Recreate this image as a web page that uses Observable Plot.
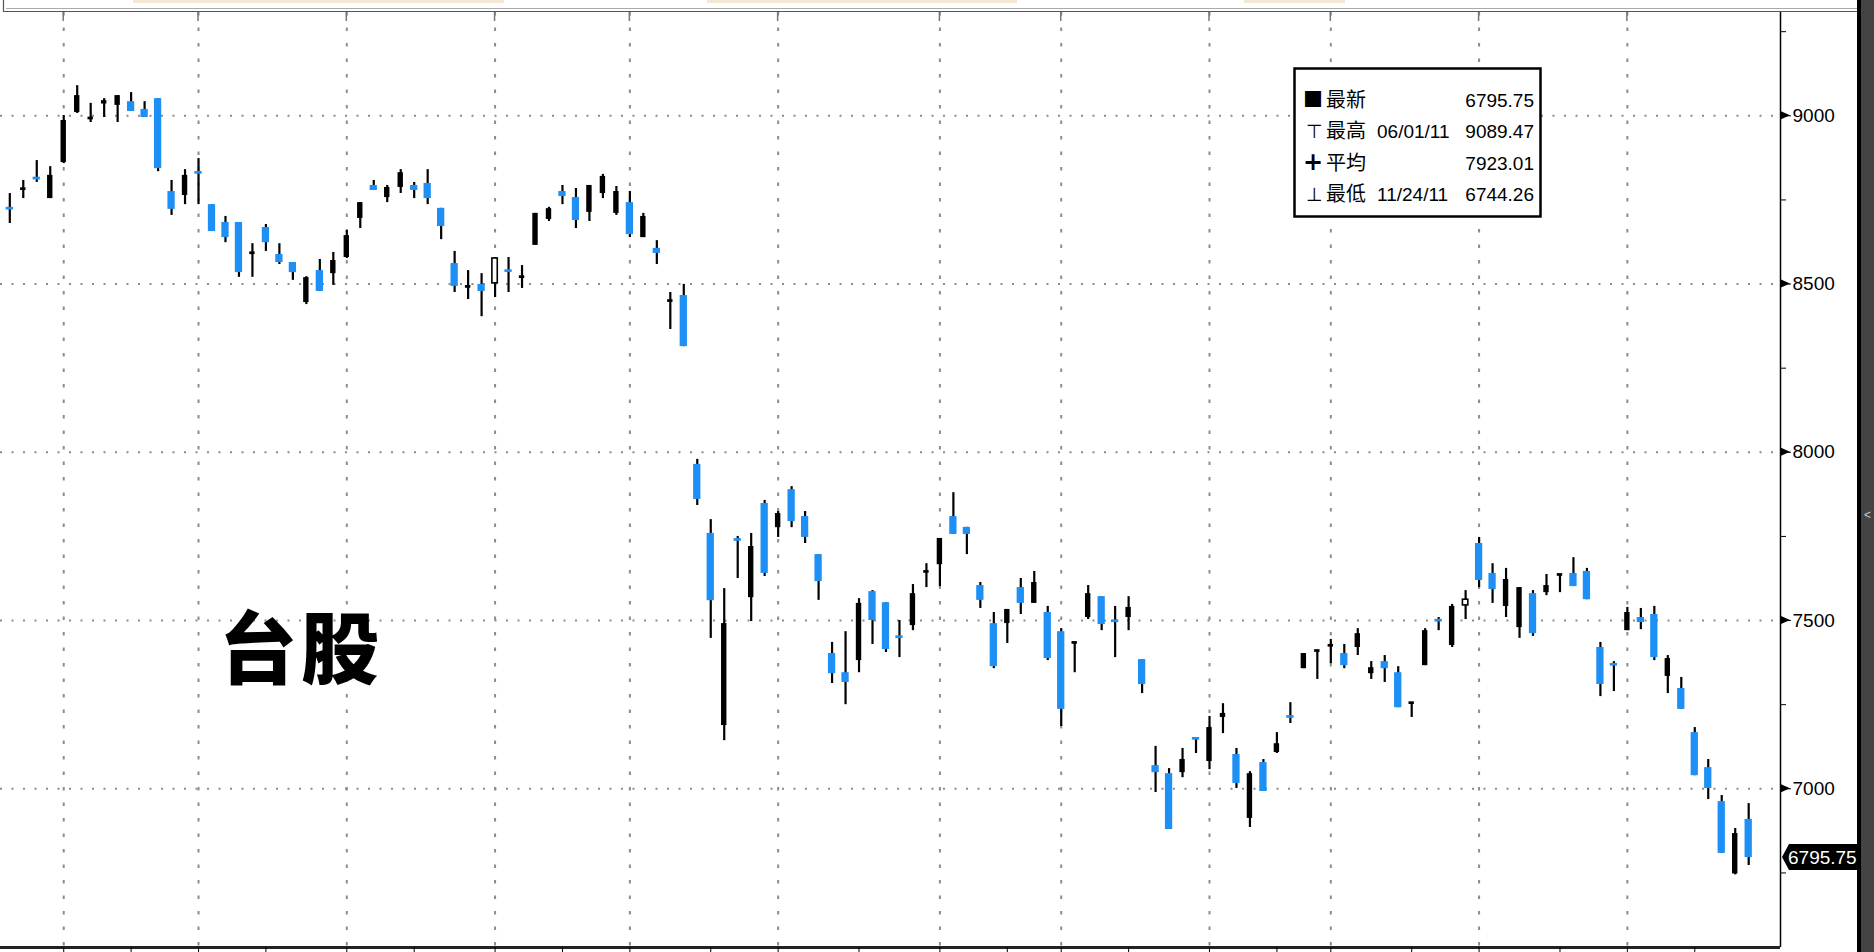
<!DOCTYPE html>
<html><head><meta charset="utf-8">
<script src="https://cdn.jsdelivr.net/npm/d3@7"></script>
<script src="https://cdn.jsdelivr.net/npm/@observablehq/plot@0.6"></script>
<style>
html,body{margin:0;padding:0;background:#fff;overflow:hidden}
#chart{position:relative;width:1874px;height:952px}
</style></head><body><div id="chart"></div>
<script>
// ---- data (TAIEX daily candles, 2011-05-25 .. 2011-11-25, trading-day index 1..130) ----
const openP = [8726,8780,8815,8754,8861,9010,8989,9035,9031,9042,9019,9051,8775,8763,8832,8736,8683,8683,8590,8668,
8588,8564,8445,8540,8531,8579,8695,8793,8757,8787,8793,8799,8725,8561,8490,8499,8502,8540,8519,8615,
8692,8775,8757,8713,8769,8710,8742,8638,8606,8448,8466,7964,7759,7188,7741,7568,7848,7776,7889,7809,
7696,7402,7345,7381,7586,7553,7452,7485,7643,7666,7809,7777,7604,7491,7491,7598,7551,7524,7467,7432,
7509,7571,7499,7509,7384,7069,7045,7048,7150,7081,7212,7102,6912,7078,7108,7215,7357,7408,7424,7402,
7420,7342,7378,7345,7253,7366,7501,7426,7545,7729,7640,7542,7479,7580,7583,7634,7640,7646,7420,7370,
7470,7509,7518,7334,7298,7167,7063,6962,6747,6909];
const highP = [8769,8808,8867,8849,9001,9089.47,9037,9051,9060,9069,9042,9051,8808,8840,8873,8736,8701,8683,8620,8677,
8620,8564,8522,8573,8594,8659,8742,8808,8793,8840,8802,8840,8725,8597,8540,8531,8579,8579,8555,8710,
8728,8793,8784,8793,8826,8790,8775,8710,8629,8475,8499,7979,7800,7595,7750,7759,7857,7824,7898,7824,
7696,7435,7467,7565,7589,7553,7500,7607,7669,7744,7880,7777,7613,7524,7533,7625,7646,7542,7476,7435,
7604,7571,7542,7571,7384,7126,7060,7120,7152,7215,7253,7120,7051,7087,7167,7256,7402,7411,7444,7429,
7476,7378,7396,7363,7256,7476,7509,7548,7589,7747,7669,7655,7598,7589,7637,7637,7687,7655,7435,7378,
7539,7536,7542,7396,7331,7182,7087,6980,6882,6956];
const lowP = [8680,8754,8802,8754,8858,9007,8980,8995,8980,9013,8995,8834,8704,8736,8736,8656,8623,8520,8520,8597,
8558,8511,8439,8478,8496,8576,8665,8778,8742,8769,8754,8736,8632,8475,8454,8403,8460,8475,8487,8615,
8686,8736,8665,8686,8754,8704,8638,8638,8558,8365,8314,7842,7447,7143,7625,7497,7631,7747,7776,7729,
7560,7313,7250,7345,7429,7405,7390,7470,7598,7601,7756,7696,7536,7357,7432,7518,7551,7381,7185,7345,
7503,7470,7390,7470,7283,6989,6879,7033,7105,7057,7164,7001,6885,6992,7105,7194,7357,7325,7372,7357,
7396,7325,7316,7241,7212,7366,7470,7420,7503,7598,7551,7509,7447,7453,7574,7583,7601,7562,7274,7289,
7470,7473,7381,7283,7236,7039,6968,6808,6744.26,6772];
const closeP = [8722,8784,8812,8823,8986,9060,8995,9045,9060,9013,8995,8843,8722,8823,8829,8656,8638,8534,8593,8623,
8564,8534,8519,8478,8570,8644,8742,8778,8787,8831,8778,8754,8671,8493,8493,8478,8576,8537,8522,8710,
8724,8760,8689,8793,8820,8775,8647,8701,8591,8451,8314,7860,7559,7491,7738,7720,7640,7818,7794,7747,
7616,7342,7316,7551,7500,7414,7449,7580,7646,7744,7756,7756,7560,7363,7533,7551,7613,7387,7236,7435,
7580,7488,7497,7539,7310,7048,6879,7087,7147,7182,7224,7016,7045,6992,7134,7212,7402,7411,7426,7366,
7461,7360,7357,7241,7256,7470,7498,7542,7562,7619,7592,7622,7598,7461,7604,7637,7601,7562,7310,7367,
7524,7494,7390,7387,7236,7039,7001,6808,6867,6795.75];
const hollowDays = [37, 109];
const gridDays = [5,15,26,37,47,58,70,79,90,99,110,121];
const tickDays = [5,10,15,20,26,31,37,42,47,53,58,64,70,75,79,84,90,95,99,105,110,116,121,126];
const yTicks = [7000,7500,8000,8500,9000];
const yMinorTicks = [6750,7250,7750,8250,8750,9250];
const legendIcons = ["■","⊤","+","⊥"];
const legendLabels = ["最新","最高","平均","最低"];
const legendDates = ["","06/01/11","","11/24/11"];
const legendValues = ["6795.75","9089.47","7923.01","6744.26"];
const lastValue = 6795.75;
const chartTitle = "台股";

// ---- build table ----
const minBody = 8;
const data = openP.map((o, k) => {
  const c = closeP[k], hi = Math.max(o, c), lo = Math.min(o, c), mid = (hi + lo) / 2;
  const thin = hi - lo < minBody;
  const day = k + 1;
  return {day, open: o, high: highP[k], low: lowP[k], close: c,
    bTop: thin ? mid + minBody / 2 : hi, bBot: thin ? mid - minBody / 2 : lo,
    kind: hollowDays.includes(day) ? "hollow" : (c < o ? "down" : "up")};
});

const xDomain = [0.31, 132.36];
const yDomain = [6528.4, 9307];
const BLUE = "#1e8ff5";
const FONT = "'Liberation Sans', Arial, sans-serif";
const CJK = "'Noto Sans CJK TC', 'Noto Sans CJK SC', sans-serif";

const plot = Plot.plot({
  width: 1874, height: 952,
  marginLeft: 0, marginRight: 94, marginTop: 12, marginBottom: 5,
  x: {domain: xDomain},
  y: {domain: yDomain},
  style: {fontFamily: FONT, fontSize: "19px", background: "#fff", color: "#000", overflow: "visible"},
  marks: [
    Plot.ruleY(yTicks, {stroke: "#8c8c8c", strokeWidth: 2, strokeDasharray: "2,9.5"}),
    Plot.ruleX(gridDays, {stroke: "#8c8c8c", strokeWidth: 2, strokeDasharray: "3.5,12"}),
    Plot.ruleX(data, {x: "day", y1: "low", y2: "high", stroke: "#000", strokeWidth: 2.2}),
    Plot.rect(data.filter(d => d.kind === "down"), {x1: d => d.day - 0.27, x2: d => d.day + 0.27, y1: "bBot", y2: "bTop", fill: BLUE}),
    Plot.rect(data.filter(d => d.kind === "up"), {x1: d => d.day - 0.2, x2: d => d.day + 0.2, y1: "bBot", y2: "bTop", fill: "#000"}),
    Plot.rect(data.filter(d => d.kind === "hollow"), {x1: d => d.day - 0.2, x2: d => d.day + 0.2, y1: "bBot", y2: "bTop", fill: "#fff", stroke: "#000", strokeWidth: 1.6}),
    Plot.ruleX([xDomain[1]], {stroke: "#000", strokeWidth: 1.5}),
    Plot.ruleY([yDomain[0]], {stroke: "#222", strokeWidth: 3}),
    Plot.axisY({anchor: "right", ticks: yTicks, tickSize: 10, tickPadding: 2, tickFormat: d => String(d), label: null, fontSize: 19}),
    Plot.axisY({anchor: "right", ticks: yMinorTicks, tickSize: 5, tickFormat: () => "", label: null}),
    Plot.axisX({anchor: "bottom", ticks: tickDays, tickSize: 5, tickFormat: () => "", label: null})
  ]
});
document.getElementById("chart").appendChild(plot);

// ---- decorations drawn with the plot's own scales ----
const xs = plot.scale("x"), ys = plot.scale("y");
const svg = d3.select(plot);
const xRight = xs.apply(xDomain[1]);
const deco = svg.append("g").attr("text-anchor", "start");

// remnants of the panel above
[[133,504],[707,1017],[1244,1345]].forEach(([a,b]) =>
  deco.append("rect").attr("x", a).attr("y", 0).attr("width", b - a).attr("height", 3).attr("fill", "#f2e8d4"));
deco.append("path").attr("d", `M3.5,0V11.5H1857`).attr("fill", "none").attr("stroke", "#555").attr("stroke-width", 1.2);
deco.append("line").attr("x1", 6).attr("x2", 1857).attr("y1", 8.5).attr("y2", 8.5).attr("stroke", "#aaa").attr("stroke-width", 1);
gridDays.forEach(d => deco.append("line").attr("x1", xs.apply(d)).attr("x2", xs.apply(d)).attr("y1", 12).attr("y2", 21).attr("stroke", "#777").attr("stroke-width", 1.5));

// dark bar at right edge
deco.append("rect").attr("x", 1857).attr("y", 0).attr("width", 17).attr("height", 952).attr("fill", "#444");
deco.append("rect").attr("x", 1857).attr("y", 0).attr("width", 4).attr("height", 952).attr("fill", "#000");
deco.append("text").attr("x", 1864).attr("y", 519).attr("fill", "#ccc").attr("font-size", 12).text("<");

// triangle pointers on major ticks
yTicks.forEach(v => {
  const y = ys.apply(v);
  deco.append("path").attr("d", `M${xRight + 1},${y - 4}L${xRight + 10},${y}L${xRight + 1},${y + 4}Z`).attr("fill", "#000");
});

// last value marker
{
  const y = ys.apply(lastValue);
  deco.append("path").attr("d", `M${xRight + 2},${y}L${xRight + 9},${y - 13}H1857V${y + 13}H${xRight + 9}Z`).attr("fill", "#000");
  deco.append("text").attr("x", xRight + 8).attr("y", y + 7).attr("fill", "#fff").attr("font-size", 19)
    .attr("font-family", FONT).text(legendValues[0]);
}

// title inside chart
deco.append("text").attr("x", 219).attr("y", 678).attr("font-size", 78).attr("font-weight", 900)
  .attr("letter-spacing", 4).attr("font-family", CJK).attr("fill", "#000").text(chartTitle);

// legend box
deco.append("rect").attr("x", 1294.5).attr("y", 68.5).attr("width", 246).attr("height", 148)
  .attr("fill", "#fff").attr("stroke", "#000").attr("stroke-width", 2.5);
const rowY = [107, 138, 170, 201];
legendLabels.forEach((lab, k) => {
  const g = deco.append("g").attr("fill", "#000");
  g.append("text").attr("x", k === 0 ? 1303 : (k === 2 ? 1303 : 1306)).attr("y", rowY[k])
    .attr("font-size", k === 0 ? 20 : (k === 2 ? 24 : 19)).attr("font-weight", k === 2 ? 700 : 400)
    .attr("font-family", k === 0 ? CJK : "'DejaVu Sans', sans-serif").text(legendIcons[k]);
  g.append("text").attr("x", 1326).attr("y", rowY[k]).attr("font-size", 20)
    .attr("font-family", CJK).text(lab);
  if (legendDates[k]) g.append("text").attr("x", 1377).attr("y", rowY[k]).attr("font-size", 19)
    .attr("font-family", FONT).text(legendDates[k]);
  g.append("text").attr("x", 1534).attr("y", rowY[k]).attr("font-size", 19).attr("text-anchor", "end")
    .attr("font-family", FONT).text(legendValues[k]);
});
</script></body></html>
